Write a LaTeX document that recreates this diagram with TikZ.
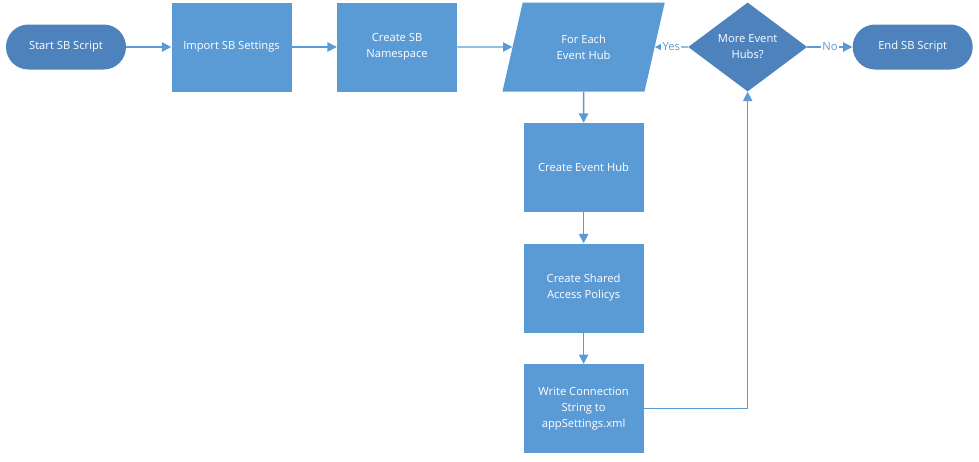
\documentclass[tikz,border=0pt]{standalone}
\usepackage{fontspec}
\setmainfont{Open Sans}
\usetikzlibrary{positioning,arrows.meta,shapes.geometric}

\definecolor{boxblue}{HTML}{5B9BD5}
\definecolor{darkblue}{HTML}{4D82BD}

\begin{document}
\begin{tikzpicture}[
  font=\fontsize{8.4}{12}\selectfont,
  block/.style={fill=boxblue, text=white, align=center, minimum width=90pt, minimum height=66.75pt, inner sep=2pt},
  term/.style={fill=darkblue, text=white, align=center, rounded corners=16.8pt, minimum width=90pt, minimum height=33.75pt},
  loopbox/.style={trapezium, trapezium left angle=70, trapezium right angle=110, trapezium stretches=true, fill=boxblue, text=white, align=center, minimum width=122.25pt, minimum height=66.75pt, inner sep=0pt},
  decide/.style={diamond, fill=darkblue, text=white, align=center, minimum width=89.25pt, minimum height=66.75pt, inner sep=0pt, aspect=1.34},
  arr/.style={-{Triangle[length=7pt,width=7pt]}, boxblue, line width=1.1pt},
  lbl/.style={fill=white, text=boxblue, inner sep=1pt}
]
\useasboundingbox (-49.5pt,35.25pt) rectangle (684.75pt,-310.5pt);

% nodes
\node[term] (start) {Start SB Script};
\node[block, right=33.75pt of start] (import) {Import SB Settings};
\node[block, right=33.75pt of import] (ns) {Create SB\\Namespace};
\node[loopbox, right=41.25pt of ns] (foreach) {For Each\\Event Hub};
\node[decide, right=24.75pt of foreach] (more) {More Event\\Hubs?};
\node[term, right=33.75pt of more] (finish) {End SB Script};
\node[block, below=23.25pt of foreach] (hub) {Create Event Hub};
\node[block, below=23.25pt of hub] (policy) {Create Shared\\Access Policys};
\node[block, below=23.25pt of policy] (write) {Write Connection\\String to\\appSettings.xml};

% arrows
\draw[arr] (start) -- (import);
\draw[arr] (import) -- (ns);
\draw[arr] (ns) -- (foreach);
\draw[arr] (more) -- node[lbl] {Yes} (foreach);
\draw[arr] (more) -- node[lbl] {No} (finish);
\draw[arr] (foreach) -- (hub);
\draw[arr] (hub) -- (policy);
\draw[arr] (policy) -- (write);
\draw[arr] (write.east) -| (more.south);

\end{tikzpicture}
\end{document}
